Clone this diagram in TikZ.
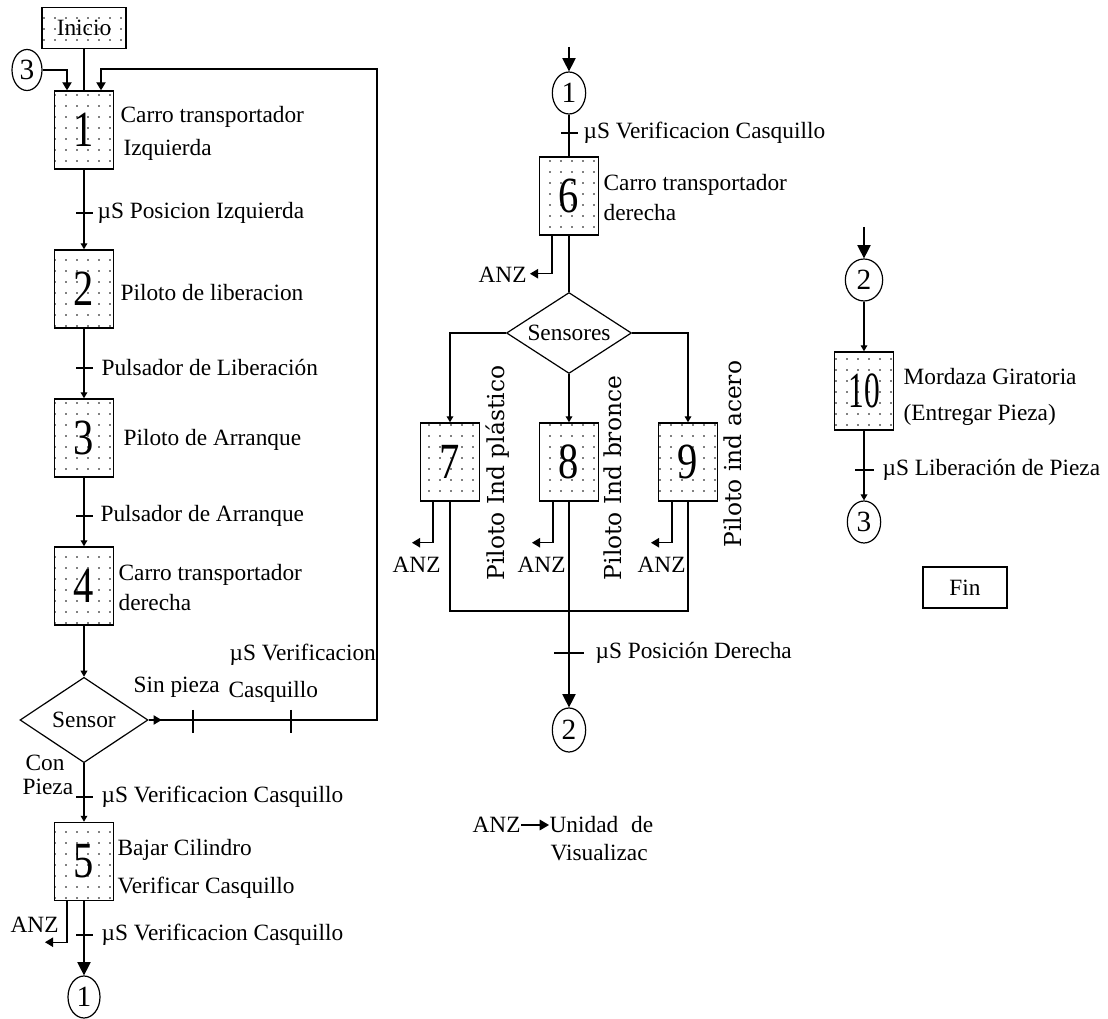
\documentclass[tikz,border=0pt]{standalone}
\usepackage{fontspec}
\setmainfont{Liberation Serif}
\newfontfamily\rotfont{DejaVu Serif}
\usetikzlibrary{shapes.geometric,arrows.meta,patterns.meta,calc}
\newcommand\stepnum[2]{\scalebox{#1}[1]{#2}}
\begin{document}
\begin{tikzpicture}[x=0.75pt,y=-0.75pt,line width=0.9pt,
  every node/.style={font=\fontsize{17.5}{21}\selectfont,inner sep=0pt},
  stepbox/.style={draw,line width=1.1pt,minimum width=44.25pt,minimum height=58.5pt,
    pattern={Dots[distance=8.25pt,radius=0.6pt]},pattern color=black,
    font=\fontsize{38}{40}\selectfont},
  circ/.style={ellipse,draw,line width=0.9pt,minimum width=25pt,minimum height=31.5pt,
    font=\fontsize{22}{24}\selectfont},
  dia/.style={diamond,draw,line width=0.9pt,aspect=1.5},
  lbl/.style={anchor=west},
  rotlbl/.style={rotate=90,font=\rotfont\fontsize{17.5}{20}\selectfont},
  arS/.style={-{Triangle[width=5pt,length=4.5pt]}},
  arM/.style={-{Triangle[width=7pt,length=6pt]}},
  arL/.style={-{Triangle[width=10pt,length=10pt]}}
]
\useasboundingbox (0,0) rectangle (1108,1019);

% ---------------- left column ----------------
\node[stepbox,minimum width=63pt,minimum height=30.75pt,font=\fontsize{17.5}{21}\selectfont] (ini) at (84,28) {Inicio};
\node[circ,minimum width=22.5pt,minimum height=30.75pt] (c3l) at (27,70) {3};
\node[stepbox] (b1) at (84,130) {\stepnum{0.8}{1}};
\node[stepbox] (b2) at (84,289) {\stepnum{0.8}{2}};
\node[stepbox] (b3) at (84,438) {\stepnum{0.8}{3}};
\node[stepbox] (b4) at (84,586) {\stepnum{0.8}{4}};
\node[dia,minimum width=96pt,minimum height=64pt] (sen) at (84,720) {Sensor};
\node[stepbox] (b5) at (84,861.5) {\stepnum{0.8}{5}};
\node[circ,minimum width=24pt] (c1l) at (84,997) {1};

\node[lbl] (l1a) at (120,117) {Carro transportador};
\node[lbl] (l1b) at (123,150) {Izquierda};
\node[lbl] (t1) at (97,213) {µS Posicion Izquierda};
\node[lbl] (l2) at (120,293) {Piloto de liberacion};
\node[lbl] (t2) at (101,368) {Pulsador de Liberación};
\node[lbl] (l3) at (123,440) {Piloto de Arranque};
\node[lbl] (t3) at (100,516) {Pulsador de Arranque};
\node[lbl] (l4a) at (118,575) {Carro transportador};
\node[lbl] (l4b) at (118,603) {derecha};
\node[lbl] (tsa) at (229,655) {µS Verificacion};
\node[lbl] (tsb) at (228,692) {Casquillo};
\node[lbl] (sinp) at (133,687) {Sin pieza};
\node[lbl] (con) at (25,763) {Con};
\node[lbl] (pie) at (22,787) {Pieza};
\node[lbl] (t5i) at (101,797) {µS Verificacion Casquillo};
\node[lbl] (l5a) at (117,850) {Bajar Cilindro};
\node[lbl] (l5b) at (117,888) {Verificar Casquillo};
\node[lbl] (anz5) at (10,925) {ANZ};
\node[lbl] (t5o) at (101,935) {µS Verificacion Casquillo};

\coordinate (fbr) at (377,720);
\coordinate (fbt) at (377,69);

\draw (ini) -- (b1);
\draw[arM] (c3l.east) -| ([xshift=-12.75pt]b1.north);
\draw[arM] (sen.east) -- (fbr) -- (fbt) -| ([xshift=12.75pt]b1.north);
\draw[arM] (sen.east) -- ++(13,0);
\draw[arS] (b1) -- (b2);
\draw[arS] (b2) -- (b3);
\draw[arS] (b3) -- (b4);
\draw[arS] (b4) -- (sen);
\draw[arS] (sen) -- (b5);
\draw[arL] (b5) -- (c1l);
\draw[arM] ([xshift=-12.75pt]b5.south) -- ++(0,41) -- ++(-22,0);
% ticks
\draw (76,213) -- (93,213);
\draw (76,368) -- (93,368);
\draw (76,516) -- (93,516);
\draw (76,797) -- (93,797);
\draw (76,935) -- (93,935);
\draw (193,710) -- (193,733);
\draw (291,710) -- (291,733);

% ---------------- middle column ----------------
\coordinate (mtop) at (569,47);
\node[circ] (c1m) at (569,93) {1};
\node[stepbox] (b6) at (569,196) {\stepnum{0.8}{6}};
\node[dia,minimum width=93.75pt,minimum height=60.75pt] (sens) at (569,333) {Sensores};
\node[stepbox] (b7) at (450,462) {\stepnum{0.8}{7}};
\node[stepbox] (b8) at (569,462) {\stepnum{0.8}{8}};
\node[stepbox] (b9) at (688,462) {\stepnum{0.8}{9}};
\node[circ,minimum height=33pt] (c2m) at (569,730) {2};
\coordinate (jn) at (569,611);

\node[lbl] (t6i) at (583,133) {µS Verificacion Casquillo};
\node[lbl] (l6a) at (603,185) {Carro transportador};
\node[lbl] (l6b) at (603,213) {derecha};
\node[lbl] (anz6) at (478,275) {ANZ};
\node[lbl] (anz7) at (392,565) {ANZ};
\node[lbl] (anz8) at (517,565) {ANZ};
\node[lbl] (anz9) at (637,565) {ANZ};
\node[rotlbl] (r7) at (498,473) {Piloto Ind plástico};
\node[rotlbl] (r8) at (613,478) {Piloto Ind bronce};
\node[rotlbl] (r9) at (733,454) {Piloto ind acero};
\node[lbl] (t8o) at (595,653) {µS Posición Derecha};

\draw[arL] (mtop) -- (c1m);
\draw (c1m) -- (b6);
\draw (b6) -- (sens);
\draw[arM] ([xshift=-12.75pt]b6.south) -- ++(0,38) -- ++(-22,0);
\draw[arS] (sens.west) -| (b7.north);
\draw[arS] (sens.east) -| (b9.north);
\draw[arS] (sens) -- (b8);
\draw[arM] ([xshift=-12.75pt]b7.south) -- ++(0,41) -- ++(-21,0);
\draw[arM] ([xshift=-12pt]b8.south) -- ++(0,41) -- ++(-21,0);
\draw[arM] ([xshift=-12pt]b9.south) -- ++(0,41) -- ++(-21,0);
\draw (b7.south) -- (b7.south |- jn) -- (b9.south |- jn) -- (b9.south);
\draw[arL] (b8) -- (c2m);
\draw (561,133) -- (578,133);
\draw (554,653) -- (584,653);

% legend
\node[lbl] (lanz) at (472,825) {ANZ};
\node[lbl] (luni) at (549,825) {Unidad\hspace{0.3em} de};
\node[lbl] (lvis) at (550,853) {Visualizac};
\draw[-{Triangle[width=8pt,length=7pt]}] (lanz.east) -- (luni.west);

% ---------------- right column ----------------
\coordinate (rtop) at (864,227);
\node[circ,minimum width=28pt] (c2r) at (864,280) {2};
\node[stepbox] (b10) at (864,391) {\stepnum{0.62}{10}};
\node[circ] (c3r) at (864,522) {3};
\node[draw,line width=1.1pt,minimum width=63pt,minimum height=30.75pt] (fin) at (965,587.5) {Fin};
\node[lbl] (l10a) at (903,377) {Mordaza Giratoria};
\node[lbl] (l10b) at (903,415) {(Entregar Pieza)};
\node[lbl] (t10o) at (882,470) {µS Liberación de Pieza};

\draw[arL] (rtop) -- (c2r);
\draw[arS] (c2r) -- (b10);
\draw[arS] (b10) -- (c3r);
\draw (855,470) -- (874,470);
\end{tikzpicture}
\end{document}
